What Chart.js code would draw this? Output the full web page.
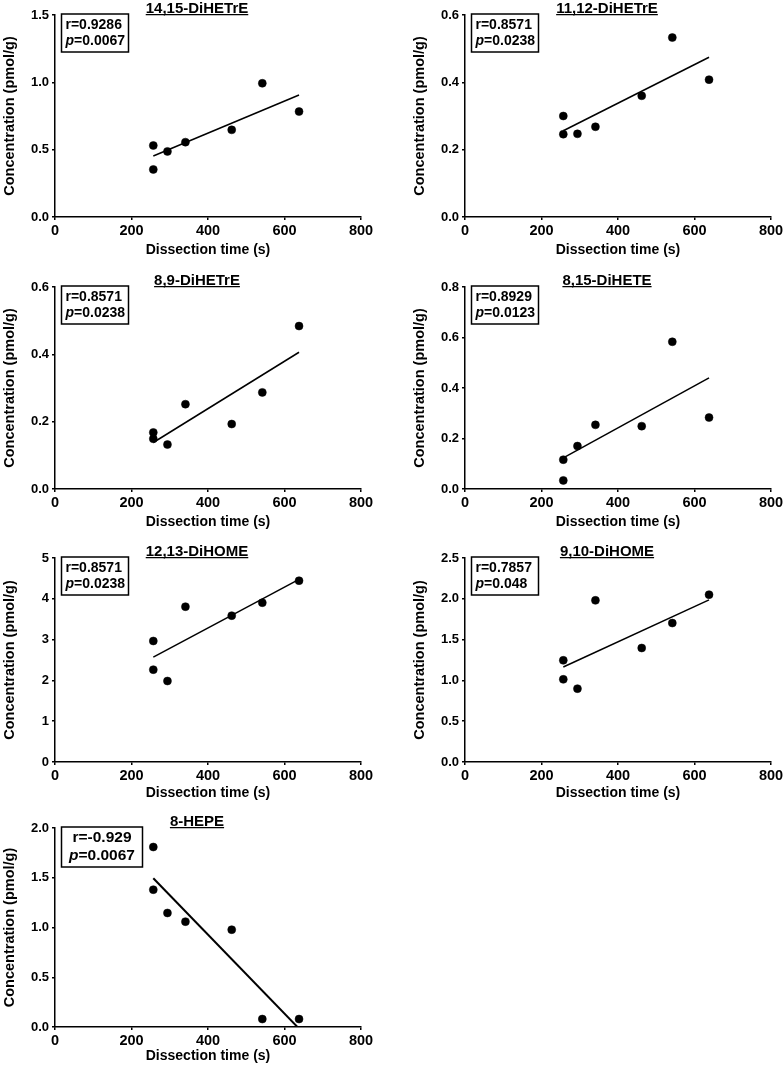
<!DOCTYPE html>
<html>
<head>
<meta charset="utf-8">
<script src="https://cdn.jsdelivr.net/npm/chart.js@4/dist/chart.umd.min.js"></script>
<style>
  html, body { margin:0; padding:0; background:#fff; }
  #wrap { position:relative; width:784px; height:1065px; overflow:hidden; }
  #wrap canvas { position:absolute; }
</style>
</head>
<body>
<div id="wrap"></div>
<script>
// Datos: tiempo de disección (s) vs concentración (pmol/g)
const dissectionTime = [257, 257, 294, 341, 462, 542, 638];

const diHETrE1415 = [0.531, 0.353, 0.487, 0.556, 0.647, 0.993, 0.783];
const diHETrE1112 = [0.300, 0.246, 0.247, 0.268, 0.360, 0.533, 0.408];
const diHETrE89   = [0.168, 0.149, 0.132, 0.252, 0.193, 0.287, 0.484];
const diHETE815   = [0.116, 0.034, 0.170, 0.254, 0.249, 0.583, 0.283];
const diHOME1213  = [2.966, 2.263, 1.985, 3.807, 3.587, 3.905, 4.444];
const diHOME910   = [1.246, 1.013, 0.899, 1.981, 1.397, 1.703, 2.051];
const hepe8       = [1.809, 1.380, 1.146, 1.059, 0.978, 0.080, 0.080];

const panelTitles = ['14,15-DiHETrE', '11,12-DiHETrE', '8,9-DiHETrE', '8,15-DiHETE', '12,13-DiHOME', '9,10-DiHOME', '8-HEPE'];
const panelSeries = [diHETrE1415, diHETrE1112, diHETrE89, diHETE815, diHOME1213, diHOME910, hepe8];
const rLabels = ['0.9286', '0.8571', '0.8571', '0.8929', '0.8571', '0.7857', '-0.929'];
const pLabels = ['0.0067', '0.0238', '0.0238', '0.0123', '0.0238', '0.048', '0.0067'];

const xTicks = [0, 200, 400, 600, 800];
const yMax  = [1.5, 0.6, 0.6, 0.8, 5, 2.5, 2.0];
const yStep = [0.5, 0.2, 0.2, 0.2, 1, 0.5, 0.5];

const xTitle = 'Dissection time (s)';
const yTitle = 'Concentration (pmol/g)';

// geometría de la figura
const FONT = '"Liberation Sans", Arial, Helvetica, sans-serif';
const colLeft = [0, 410];          // borde izq. del canvas
const plotTop = [15, 287, 558, 828];
const plotH   = [202, 202, 204, 199];
const xAxisH  = [42, 42, 40, 38];
const Y_W = 55, TOP_PAD = 15, RIGHT_PAD = 13, PLOT_W = 306;

Chart.defaults.font.family = FONT;
Chart.defaults.color = '#000';

function linFit(xs, ys) {
  const n = xs.length;
  const mx = xs.reduce((a, b) => a + b, 0) / n;
  const my = ys.reduce((a, b) => a + b, 0) / n;
  let sxy = 0, sxx = 0;
  for (let i = 0; i < n; i++) { sxy += (xs[i]-mx)*(ys[i]-my); sxx += (xs[i]-mx)**2; }
  const m = sxy / sxx, b = my - m*mx;
  const x0 = Math.min(...xs), x1 = Math.max(...xs);
  return [{ x:x0, y:m*x0+b }, { x:x1, y:m*x1+b }];
}

// título subrayado y recuadro r / p
const panelText = {
  id: 'panelText',
  afterDraw(chart, args, o) {
    const { ctx, chartArea: a } = chart;
    ctx.save();
    ctx.fillStyle = '#000'; ctx.strokeStyle = '#000';
    // título
    ctx.font = 'bold 15px ' + FONT;
    ctx.textAlign = 'center'; ctx.textBaseline = 'alphabetic';
    const cx = (a.left + a.right) / 2 - 11, by = a.top - 2.5;
    ctx.fillText(o.title, cx, by);
    const tw = ctx.measureText(o.title).width;
    ctx.lineWidth = 1.3;
    ctx.beginPath(); ctx.moveTo(cx - tw/2, by + 2.2); ctx.lineTo(cx + tw/2, by + 2.2); ctx.stroke();
    // recuadro
    const bw = o.big ? 81 : 67, bh = o.big ? 40 : 38;
    const bx = a.left + 6.5, bt = a.top - 1;
    ctx.lineWidth = 1.5;
    ctx.strokeRect(bx, bt, bw, bh);
    const fs = o.big ? 15.5 : 14;
    const l1 = 'r=' + o.r, l2 = '=' + o.p;
    ctx.textBaseline = 'middle';
    ctx.font = 'bold ' + fs + 'px ' + FONT;
    const w1 = ctx.measureText(l1).width, w2b = ctx.measureText(l2).width;
    ctx.font = 'italic bold ' + fs + 'px ' + FONT;
    const wp = ctx.measureText('p').width;
    const y1 = bt + 11, y2 = bt + (o.big ? 29 : 27);
    let x1 = bx + 4, x2 = bx + 4;
    if (o.big) { x1 = bx + (bw - w1)/2; x2 = bx + (bw - wp - w2b)/2; }
    ctx.textAlign = 'left';
    ctx.font = 'bold ' + fs + 'px ' + FONT;
    ctx.fillText(l1, x1, y1);
    ctx.font = 'italic bold ' + fs + 'px ' + FONT;
    ctx.fillText('p', x2, y2);
    ctx.font = 'bold ' + fs + 'px ' + FONT;
    ctx.fillText(l2, x2 + wp, y2);
    ctx.restore();
  }
};

const wrap = document.getElementById('wrap');

panelSeries.forEach((ys, i) => {
  const row = Math.floor(i / 2), col = i % 2;
  const big = i === 6;
  const xh = xAxisH[row];
  const cv = document.createElement('canvas');
  const w = Y_W + PLOT_W + RIGHT_PAD, h = TOP_PAD + plotH[row] + xh;
  cv.width = w; cv.height = h;
  cv.style.left = colLeft[col] + 'px';
  cv.style.top = (plotTop[row] - TOP_PAD) + 'px';
  cv.style.width = w + 'px'; cv.style.height = h + 'px';
  wrap.appendChild(cv);

  const pts = dissectionTime.map((x, k) => ({ x, y: ys[k] }));
  const dec = yStep[i] < 1 ? 1 : 0;
  const axisBase = {
    border: { display:true, color:'#000', width:1.5 },
    grid: { display:true, drawOnChartArea:false, drawTicks:true, tickLength:3, color:'#000', lineWidth:1.5 },
  };

  new Chart(cv, {
    type: 'scatter',
    data: {
      datasets: [
        { data: linFit(dissectionTime, ys), showLine:true, borderColor:'#000', borderWidth: big ? 2 : 1.5,
          pointRadius:0, fill:false, clip:0 },
        { data: pts, backgroundColor:'#000', borderColor:'#000', borderWidth:0.5, pointRadius:4, pointHoverRadius:4 }
      ]
    },
    options: {
      responsive:false, animation:false, devicePixelRatio:1,
      layout: { padding: { top:TOP_PAD, right:RIGHT_PAD, left:0, bottom:0 } },
      plugins: {
        legend: { display:false }, tooltip: { enabled:false },
        panelText: { title: panelTitles[i], r: rLabels[i], p: pLabels[i], big }
      },
      scales: {
        x: {
          ...axisBase, type:'linear', min:xTicks[0], max:xTicks[xTicks.length-1],
          afterBuildTicks: s => { s.ticks = xTicks.map(v => ({ value:v })); },
          ticks: { font:{ size:14.5, weight:'bold' }, color:'#000', padding:2, maxRotation:0 },
          title: { display:true, text:xTitle, font:{ size:14, weight:'bold' }, color:'#000', padding:{ top:0, bottom:0 } },
          afterFit: s => { s.height = xh; s.paddingLeft = 0; s.paddingRight = 0; }
        },
        y: {
          ...axisBase, min:0, max:yMax[i],
          ticks: { stepSize:yStep[i], font:{ size:13, weight:'bold' }, color:'#000', padding:3,
                   callback: v => Number(v).toFixed(dec) },
          title: { display:true, text:yTitle, font:{ size:14.5, weight:'bold' }, color:'#000', padding:{ top:1.5, bottom:0 } },
          afterFit: s => { s.width = Y_W; s.paddingTop = 0; s.paddingBottom = 0; }
        }
      }
    },
    plugins: [panelText]
  });
});
</script>
</body>
</html>
